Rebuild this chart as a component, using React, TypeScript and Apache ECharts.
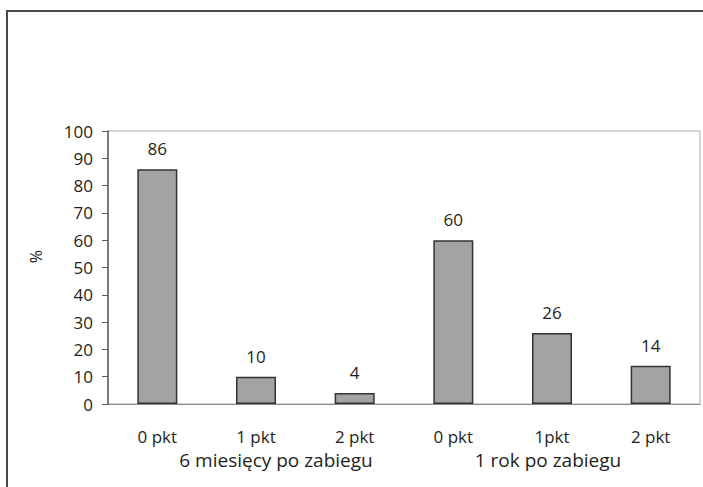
import React, { useEffect, useRef } from "react";
import * as echarts from "echarts";

const categories = ["0 pkt", "1 pkt", "2 pkt", "0 pkt", "1pkt", "2 pkt"];
const groups = ["6 miesięcy po zabiegu", "1 rok po zabiegu"];
const values = [86, 10, 4, 60, 26, 14];
const yTicks = { min: 0, max: 100, interval: 10 };
const yName = "%";

const FONT = "'Open Sans', 'Noto Sans', sans-serif";

export default function App() {
  const ref = useRef<HTMLDivElement>(null);
  useEffect(() => {
    if (!ref.current) return;
    const chart = echarts.init(ref.current, undefined, { renderer: "svg" });
    chart.setOption({
      animation: false,
      backgroundColor: "#ffffff",
      textStyle: { fontFamily: FONT },
      graphic: [
        {
          type: "rect",
          shape: { x: 7, y: 11, width: 900, height: 700 },
          style: { fill: "none", stroke: "#4a4a4a", lineWidth: 2 },
          silent: true,
          z: 0,
        },
      ],
      grid: {
        left: 108,
        right: 3,
        top: 131,
        bottom: 83,
        show: true,
        borderColor: "#ababab",
        borderWidth: 1,
        backgroundColor: "transparent",
      },
      xAxis: [
        {
          type: "category",
          data: categories,
          position: "bottom",
          axisLine: { show: true, lineStyle: { color: "#8a8a8a", width: 1 } },
          axisTick: { show: false },
          axisLabel: { margin: 24, fontSize: 17, color: "#231f20", fontFamily: FONT },
          splitLine: { show: false },
        },
        {
          type: "category",
          data: [
            { value: groups[0], textStyle: { padding: [0, 0, 0, 40] } },
            { value: groups[1], textStyle: { padding: [0, 8, 0, 0] } },
          ],
          position: "bottom",
          axisLine: { show: false },
          axisTick: { show: false },
          axisLabel: { margin: 46, fontSize: 19, color: "#231f20", fontFamily: FONT },
          splitLine: { show: false },
        },
      ],
      yAxis: {
        type: "value",
        min: yTicks.min,
        max: yTicks.max,
        interval: yTicks.interval,
        name: yName,
        nameLocation: "middle",
        nameGap: 64,
        nameRotate: 90,
        nameTextStyle: { fontSize: 16, color: "#231f20", fontFamily: FONT, padding: [0, 0, 0, 22] },
        axisLine: { show: true, lineStyle: { color: "#5a5a5a", width: 1.5 } },
        axisTick: { show: true, inside: false, length: 6, lineStyle: { color: "#5a5a5a" } },
        axisLabel: { margin: 15, fontSize: 17, color: "#231f20", fontFamily: FONT },
        splitLine: { show: false },
      },
      series: [
        {
          type: "bar",
          xAxisIndex: 0,
          data: values,
          barWidth: 40,
          itemStyle: { color: "#a3a3a3", borderColor: "#333333", borderWidth: 1.5 },
          label: {
            show: true,
            position: "top",
            distance: 12,
            fontSize: 17,
            color: "#231f20",
            fontFamily: FONT,
          },
        },
      ],
    });
    return () => chart.dispose();
  }, []);
  return (
    <div
      ref={ref}
      style={{ position: "fixed", left: 0, top: 0, width: 703, height: 487, background: "#fff" }}
    />
  );
}
